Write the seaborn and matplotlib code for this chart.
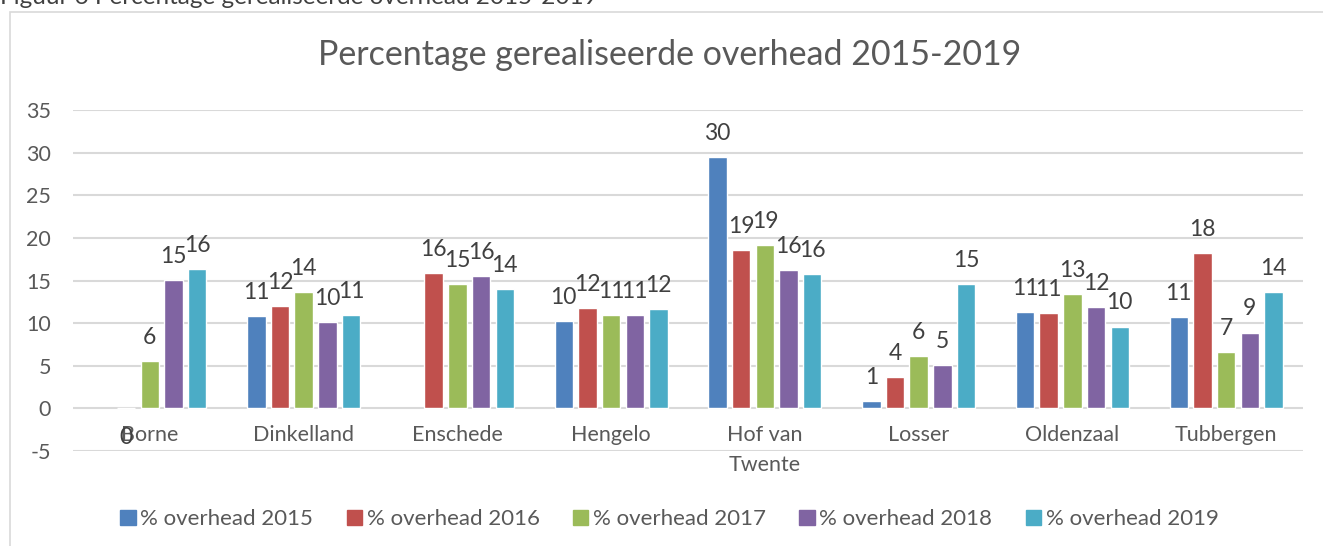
import numpy as np
import pandas as pd
import matplotlib.pyplot as plt
import seaborn as sns
from matplotlib.patches import Rectangle

# data
gemeenten = ["Borne", "Dinkelland", "Enschede", "Hengelo", "Hof van\nTwente",
             "Losser", "Oldenzaal", "Tubbergen"]
jaren = ["% overhead 2015", "% overhead 2016", "% overhead 2017",
         "% overhead 2018", "% overhead 2019"]
oh_2015 = [np.nan, 10.8, np.nan, 10.25, 29.5, 0.86, 11.35, 10.7]
oh_2016 = [0.0, 12.0, 15.9, 11.8, 18.6, 3.7, 11.15, 18.2]
oh_2017 = [5.6, 13.65, 14.6, 10.9, 19.2, 6.1, 13.4, 6.6]
oh_2018 = [15.06, 10.1, 15.5, 10.9, 16.2, 5.1, 11.9, 8.9]
oh_2019 = [16.3, 10.9, 14.0, 11.7, 15.8, 14.6, 9.6, 13.6]
kleuren = ["#4F81BD", "#C0504D", "#9BBB59", "#8064A2", "#4BACC6"]

series = [oh_2015, oh_2016, oh_2017, oh_2018, oh_2019]
rows = []
for jaar, vals in zip(jaren, series):
    for g, v in zip(gemeenten, vals):
        rows.append({"Gemeente": g, "Jaar": jaar, "Waarde": v})
df = pd.DataFrame(rows).dropna()

sns.set_style("white")
plt.rcParams['font.family'] = ['Lato', 'DejaVu Sans']
plt.rcParams['axes.unicode_minus'] = False
tekst = "#595959"
grid = "#D9D9D9"

fig = plt.figure(figsize=(13.23, 5.46), dpi=100)
ax = fig.add_axes([0.0552, 0.174, 0.9297, 0.6245])

sns.barplot(data=df, x="Gemeente", y="Waarde", hue="Jaar", order=gemeenten,
            hue_order=jaren, palette=kleuren, width=0.77, gap=0.22,
            errorbar=None, saturation=1, ax=ax, legend=True)

ax.set_ylim(-5, 35)
ax.set_xlim(-0.5, len(gemeenten) - 0.5)
ax.set_yticks(range(-5, 36, 5))
ax.yaxis.grid(True, color=grid, linewidth=1.5)
ax.set_axisbelow(True)
for s in ["top", "right", "left"]:
    ax.spines[s].set_visible(False)
ax.spines["bottom"].set_position(("data", 0))
ax.spines["bottom"].set_visible(False)
ax.tick_params(axis="both", length=0, colors=tekst, labelsize=15.5)
ax.tick_params(axis="y", pad=16)
ax.tick_params(axis="x", pad=12)
for lab in ax.get_xticklabels():
    lab.set_linespacing(1.6)
ax.set_xlabel("")
ax.set_ylabel("")

# data labels
for cont in ax.containers:
    for bar in cont:
        h = bar.get_height()
        if np.isnan(h):
            continue
        x = bar.get_x() + bar.get_width() / 2
        if h == 0:
            ax.annotate("0", (x, 0), xytext=(0, -21), textcoords="offset points",
                        ha="center", va="center", fontsize=16.5, color="#404040")
        else:
            ax.annotate(f"{h:.0f}", (x, h), xytext=(0, 17), textcoords="offset points",
                        ha="center", va="center", fontsize=16.5, color="#404040")

ax.get_legend().remove()
handles = [Rectangle((0, 0), 1, 1, color=c) for c in kleuren]
fig.legend(handles, jaren, loc="center", bbox_to_anchor=(0.506, 0.049), ncol=5,
           frameon=False, fontsize=16, labelcolor=tekst, handlelength=0.7,
           handleheight=0.7, handletextpad=0.2, columnspacing=1.5)

fig.text(0.506, 0.90, "Percentage gerealiseerde overhead 2015-2019", ha="center",
         va="center", fontsize=24.5, color=tekst)
fig.text(0.0, 1 - 4 / 546, "Figuur 6 Percentage gerealiseerde overhead 2015-2019",
         ha="left", va="baseline", fontsize=17.5, color="#404040")

# chart border
fig.patches.append(Rectangle((10 / 1323, -0.1), 1.2, 1 - 12 / 546 + 0.1,
                             transform=fig.transFigure, fill=False,
                             edgecolor=grid, linewidth=1.2))

fig.savefig("out.png", dpi=100)
